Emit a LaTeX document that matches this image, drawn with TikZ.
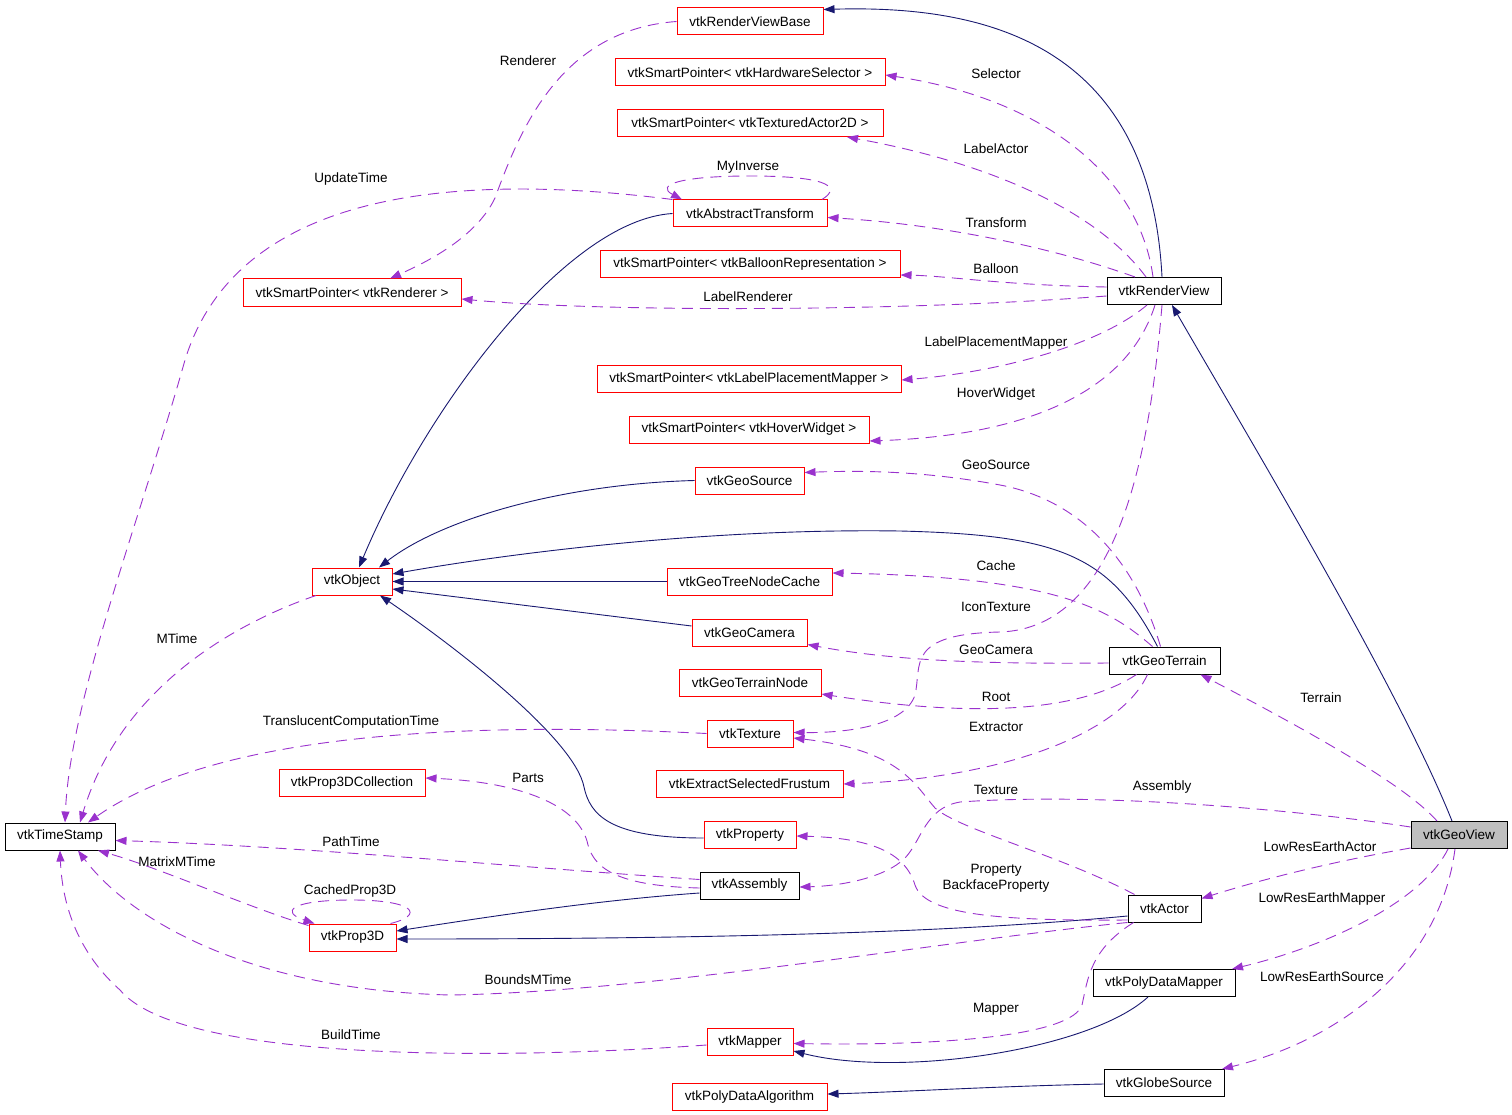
\documentclass[tikz,border=0pt]{standalone}
\usepackage{fontspec}
\setmainfont{Liberation Sans}
\usetikzlibrary{arrows.meta}

\definecolor{inhcol}{HTML}{191970}
\definecolor{usecol}{HTML}{9A32CD}
\definecolor{boxred}{HTML}{FF0000}
\definecolor{geogray}{HTML}{BFBFBF}

\begin{document}
\begin{tikzpicture}[
    x=1pt, y=-1pt,
    every node/.style={font=\fontsize{13.5}{16}\selectfont},
    cls/.style={rectangle, draw=black, line width=1pt, minimum height=27pt, inner sep=0pt},
    undoc/.style={cls, draw=boxred},
    focus/.style={cls, fill=geogray},
    lbl/.style={inner sep=0pt, align=center},
    inherit/.style={-{Triangle[length=11pt,width=8pt]}, draw=inhcol, line width=0.9pt},
    uses/.style={-{Triangle[length=11pt,width=8pt]}, draw=usecol, line width=0.9pt, dash pattern=on 11pt off 7pt}
]
\useasboundingbox (0,0) rectangle (1512,1115);

% Classes
\node[undoc, minimum width=146pt] (rvb) at (750,21.5) {vtkRenderViewBase};
\node[undoc, minimum width=270pt] (sphs) at (750,72.5) {vtkSmartPointer< vtkHardwareSelector >};
\node[undoc, minimum width=266pt] (spta) at (750,123) {vtkSmartPointer< vtkTexturedActor2D >};
\node[undoc, minimum width=154pt] (abst) at (750,213.5) {vtkAbstractTransform};
\node[undoc, minimum width=300pt] (spbr) at (750,264.5) {vtkSmartPointer< vtkBalloonRepresentation >};
\node[undoc, minimum width=218pt] (sprn) at (352,292.5) {vtkSmartPointer< vtkRenderer >};
\node[cls, minimum width=114pt] (rview) at (1164,291) {vtkRenderView};
\node[undoc, minimum width=304pt] (splpm) at (749,379) {vtkSmartPointer< vtkLabelPlacementMapper >};
\node[undoc, minimum width=240pt] (sphw) at (749,429.5) {vtkSmartPointer< vtkHoverWidget >};
\node[undoc, minimum width=109pt] (gsrc) at (749.5,480.5) {vtkGeoSource};
\node[undoc, minimum width=80pt] (obj) at (352,581.5) {vtkObject};
\node[undoc, minimum width=165pt] (gtnc) at (749.5,581.5) {vtkGeoTreeNodeCache};
\node[undoc, minimum width=115pt] (gcam) at (749.5,632.5) {vtkGeoCamera};
\node[cls, minimum width=111pt] (gterr) at (1164.5,660.5) {vtkGeoTerrain};
\node[undoc, minimum width=142pt] (gtnode) at (750,683) {vtkGeoTerrainNode};
\node[undoc, minimum width=86pt] (tex) at (750,733.5) {vtkTexture};
\node[undoc, minimum width=187pt] (esf) at (749.5,784) {vtkExtractSelectedFrustum};
\node[undoc, minimum width=146pt] (p3dc) at (352,783) {vtkProp3DCollection};
\node[cls, minimum width=110pt] (tstamp) at (60,836.5) {vtkTimeStamp};
\node[focus, minimum width=96pt] (gview) at (1459,835) {vtkGeoView};
\node[undoc, minimum width=92pt] (prop) at (750,835) {vtkProperty};
\node[cls, minimum width=99pt] (asm) at (749.5,885.5) {vtkAssembly};
\node[cls, minimum width=73pt] (actor) at (1164.5,908.5) {vtkActor};
\node[undoc, minimum width=87pt] (p3d) at (352.5,937.5) {vtkProp3D};
\node[cls, minimum width=142pt] (pdm) at (1164,983) {vtkPolyDataMapper};
\node[undoc, minimum width=86pt] (mapper) at (750,1041.5) {vtkMapper};
\node[cls, minimum width=120pt] (globe) at (1164,1083) {vtkGlobeSource};
\node[undoc, minimum width=155pt] (pda) at (749.5,1096.5) {vtkPolyDataAlgorithm};

% Inheritance
\draw[inherit] ([xshift=-2pt]rview.north) .. controls (1150,40) and (980,5) .. ([yshift=-2pt]rvb.north east);
\draw[inherit] ([xshift=-7pt]gview.north) .. controls (1400,690) and (1250,440) .. ([xshift=8pt]rview.south);
\draw[inherit] (abst.west) .. controls (565,220) and (425,410) .. ([xshift=7pt]obj.north);
\draw[inherit] (gsrc.west) .. controls (560,484) and (440,520) .. ([xshift=27pt]obj.north);
\draw[inherit] ([xshift=-7pt]gterr.north) .. controls (1110,555) and (1060,535) .. (900,531)
    .. controls (700,528) and (500,555) .. ([yshift=7.5pt]obj.east);
\draw[inherit] (gtnc.west) -- (obj.east);
\draw[inherit] ([yshift=6.5pt]gcam.west) -- ([yshift=-7.5pt]obj.east);
\draw[inherit] ([yshift=-3pt]prop.west) .. controls (610,838) and (590,815) .. (584,787)
    .. controls (575,740) and (460,650) .. ([xshift=28pt]obj.south);
\draw[inherit] ([yshift=-7.5pt]asm.west) .. controls (600,900) and (500,915) .. ([yshift=6.5pt]p3d.east);
\draw[inherit] ([yshift=-7.5pt]actor.west) .. controls (1000,928) and (800,939) .. ([yshift=-1.5pt]p3d.east);
\draw[inherit] ([xshift=-16pt]pdm.south) .. controls (1090,1050) and (900,1078) .. ([yshift=-9.5pt]mapper.east);
\draw[inherit] ([yshift=-1pt]globe.west) .. controls (1000,1086) and (900,1092) .. ([yshift=2.5pt]pda.east);

% Usage
\draw[uses] (rvb.west) .. controls (560,30) and (520,130) .. (495,198)
    .. controls (475,240) and (420,265) .. ([xshift=38pt]sprn.north);
\draw[uses] ([xshift=-11pt]rview.north) .. controls (1140,180) and (1050,100) .. ([yshift=-2.5pt]sphs.east);
\draw[uses] ([xshift=-18pt]rview.north) .. controls (1100,215) and (1000,165) .. ([xshift=97pt]spta.south);
\draw[uses] ([xshift=-29pt]rview.north) .. controls (1060,250) and (950,225) .. ([yshift=-4pt]abst.east);
\draw[uses] ([yshift=4pt]rview.west) .. controls (1000,285) and (950,276) .. ([yshift=-10.5pt]spbr.east);
\draw[uses] ([yshift=-5pt]rview.west) .. controls (900,312) and (600,312) .. ([yshift=-6.5pt]sprn.east);
\draw[uses] ([xshift=-17pt]rview.south) .. controls (1100,345) and (1000,372) .. ([yshift=-1pt]splpm.east);
\draw[uses] ([xshift=-9pt]rview.south) .. controls (1130,385) and (1040,435) .. ([yshift=-11.5pt]sphw.east);
\draw[uses] ([xshift=-2pt]rview.south) .. controls (1150,450) and (1120,628) .. (1000,632)
    .. controls (905,634) and (922,665) .. (915,695)
    .. controls (905,725) and (850,733) .. ([yshift=1pt]tex.east);
\draw[uses] ([xshift=-4pt]gterr.north) .. controls (1135,560) and (1080,500) .. (1000,485)
    .. controls (930,472) and (870,470) .. ([yshift=8pt]gsrc.east);
\draw[uses] ([xshift=-12pt]gterr.north) .. controls (1110,610) and (1060,577) .. ([yshift=8.5pt]gtnc.east);
\draw[uses] ([yshift=-2.5pt]gterr.west) .. controls (1000,664) and (900,662) .. ([yshift=-12pt]gcam.east);
\draw[uses] ([xshift=-28pt]gterr.south) .. controls (1090,705) and (1000,722) .. ([yshift=-11pt]gtnode.east);
\draw[uses] ([xshift=-17pt]gterr.south) .. controls (1120,735) and (1000,778) .. (esf.east);
\draw[uses] ([xshift=-22pt]gview.north) .. controls (1410,790) and (1330,742) .. ([xshift=36pt]gterr.south);
\draw[uses] ([yshift=8pt]gview.west) .. controls (1300,810) and (1100,792) .. (960,802)
    .. controls (925,808) and (922,840) .. (905,858)
    .. controls (885,878) and (840,886) .. ([yshift=-1.5pt]asm.east);
\draw[uses] ([xshift=-30pt]actor.north) .. controls (1060,855) and (960,830) .. (935,808)
    .. controls (915,785) and (900,750) .. ([yshift=-4.5pt]tex.east);
\draw[uses] ([yshift=-11.5pt]actor.west) .. controls (1000,921) and (925,915) .. (915,885)
    .. controls (905,852) and (870,838) .. ([yshift=-1pt]prop.east);
\draw[uses] ([yshift=-13pt]gview.west) .. controls (1330,862) and (1260,880) .. ([yshift=10pt]actor.east);
\draw[uses] ([xshift=-11pt]gview.south) .. controls (1420,905) and (1320,948) .. ([xshift=68pt]pdm.north);
\draw[uses] ([xshift=-4pt]gview.south) .. controls (1440,965) and (1340,1040) .. ([xshift=58pt]globe.north);
\draw[uses] (abst.north west) .. controls (400,165) and (230,215) .. (185,360)
    .. controls (140,520) and (70,700) .. ([xshift=5pt]tstamp.north);
\draw[uses] ([xshift=72pt]abst.north) .. controls (845,185) and (820,176) .. (750,176)
    .. controls (680,176) and (655,185) .. ([xshift=-68pt]abst.north);
\draw[uses] (tex.west) .. controls (480,722) and (220,730) .. ([xshift=28pt]tstamp.north);
\draw[uses] ([xshift=-36pt]obj.south) .. controls (230,625) and (120,690) .. ([xshift=20pt]tstamp.north);
\draw[uses] ([yshift=6pt]asm.west) .. controls (500,866) and (300,846) .. ([yshift=-4pt]tstamp.east);
\draw[uses] ([yshift=-2.5pt]asm.west) .. controls (620,886) and (595,870) .. (588,845)
    .. controls (580,805) and (520,782) .. ([yshift=5pt]p3dc.east);
\draw[uses] ([yshift=-2pt]p3d.north west) .. controls (250,908) and (160,868) .. ([xshift=38pt]tstamp.south);
\draw[uses] ([xshift=38pt]p3d.north) .. controls (425,915) and (415,900) .. (352,900)
    .. controls (290,900) and (280,912) .. ([xshift=-38pt]p3d.north);
\draw[uses] ([yshift=-14pt]actor.west) .. controls (950,940) and (650,992) .. (450,995)
    .. controls (250,990) and (130,920) .. ([xshift=18pt]tstamp.south);
\draw[uses] ([yshift=-3.5pt]mapper.west) .. controls (500,1060) and (180,1062) .. (120,990)
    .. controls (75,950) and (62,900) .. (tstamp.south);
\draw[uses] ([xshift=-31pt]actor.south) .. controls (1090,950) and (1088,978) .. (1082,1005)
    .. controls (1072,1035) and (950,1046) .. ([yshift=-2pt]mapper.east);

% Edge labels
\node[lbl] (lrenderer) at (528,61) {Renderer};
\node[lbl] (lselector) at (996,74) {Selector};
\node[lbl] (lupdate) at (351,179) {UpdateTime};
\node[lbl] (linverse) at (748,167) {MyInverse};
\node[lbl] (llabelactor) at (996,149) {LabelActor};
\node[lbl] (ltransform) at (996,223) {Transform};
\node[lbl] (lballoon) at (996,269) {Balloon};
\node[lbl] (llabelren) at (748,297) {LabelRenderer};
\node[lbl] (lplacement) at (996,343) {LabelPlacementMapper};
\node[lbl] (lhover) at (996,394) {HoverWidget};
\node[lbl] (lgeosource) at (996,465) {GeoSource};
\node[lbl] (lcache) at (996,566) {Cache};
\node[lbl] (licon) at (996,607) {IconTexture};
\node[lbl] (lgeocam) at (996,650) {GeoCamera};
\node[lbl] (lroot) at (996,697) {Root};
\node[lbl] (lextractor) at (996,727) {Extractor};
\node[lbl] (lterrain) at (1321,698) {Terrain};
\node[lbl] (ltransl) at (351,722) {TranslucentComputationTime};
\node[lbl] (lmtime) at (177,639) {MTime};
\node[lbl] (lparts) at (528,778) {Parts};
\node[lbl] (ltexture) at (996,790) {Texture};
\node[lbl] (lassembly) at (1162,787) {Assembly};
\node[lbl] (lpathtime) at (351,842) {PathTime};
\node[lbl] (lmatrix) at (177,862) {MatrixMTime};
\node[lbl] (llowactor) at (1320,847) {LowResEarthActor};
\node[lbl] (lproperty) at (996,878) {Property\\BackfaceProperty};
\node[lbl] (lcached) at (350,891) {CachedProp3D};
\node[lbl] (llowmapper) at (1322,899) {LowResEarthMapper};
\node[lbl] (lbounds) at (528,980) {BoundsMTime};
\node[lbl] (llowsource) at (1322,977) {LowResEarthSource};
\node[lbl] (lmapper) at (996,1009) {Mapper};
\node[lbl] (lbuild) at (351,1035) {BuildTime};

\end{tikzpicture}
\end{document}
